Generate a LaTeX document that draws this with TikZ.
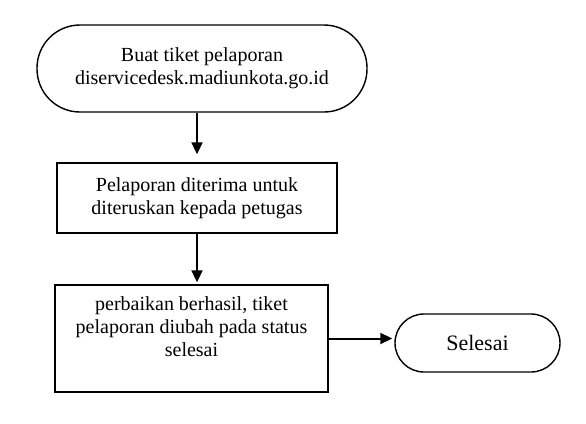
\documentclass[tikz,border=0pt]{standalone}
\usepackage{fontspec}
\setmainfont{Liberation Serif}
\usetikzlibrary{arrows.meta}
\begin{document}
\begin{tikzpicture}[x=1pt,y=-1pt,
  boxstyle/.style={draw, line width=1.4pt, rectangle, inner sep=0pt},
  txt/.style={align=center, font=\fontsize{20}{23}\selectfont},
  arr/.style={line width=2pt, -{Triangle[length=12pt,width=11pt]}}]
\useasboundingbox (0,0) rectangle (586,423);
\node[boxstyle, rounded corners=43pt, minimum width=330pt, minimum height=87pt, txt] (start) at (202,68.5)
  {Buat tiket pelaporan\\diservicedesk.madiunkota.go.id};
\node[boxstyle, minimum width=280pt, minimum height=70pt, txt] (b2) at (197,198)
  {Pelaporan diterima untuk\\diteruskan kepada petugas};
\node[boxstyle, minimum width=273pt, minimum height=107pt] (b3) at (191.5,338.5) {};
\node[txt] (b3text) at (191.5,326.5)
  {perbaikan berhasil, tiket\\pelaporan diubah pada status\\selesai};
\node[boxstyle, rounded corners=29pt, minimum width=165pt, minimum height=58pt,
  font=\fontsize{22}{25}\selectfont] (sel) at (477.5,343) {Selesai};
\draw[arr, shorten >=8pt] (b2.north |- start.south) -- (b2.north);
\draw[arr, shorten >=2pt] (b2.south) -- (b2.south |- b3.north);
\draw[arr, shorten >=2pt] (b3.east) -- (b3.east -| sel.west);
\end{tikzpicture}
\end{document}
